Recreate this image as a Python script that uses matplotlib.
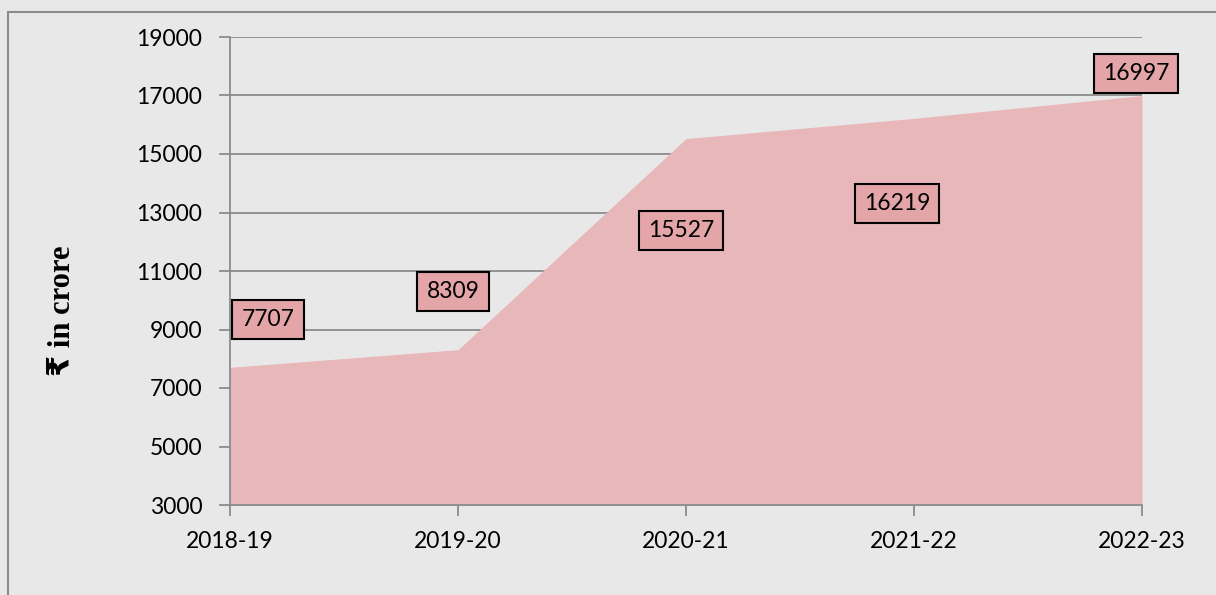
import matplotlib
matplotlib.use("Agg")
from matplotlib import pyplot as plt
from matplotlib.patches import Rectangle

years = ["2018-19", "2019-20", "2020-21", "2021-22", "2022-23"]
amounts = [7707, 8309, 15527, 16219, 16997]
yticks = list(range(3000, 19001, 2000))

# label offsets in pixels from each point (dx, dy)
label_offsets = [(38, 48), (-5, 58), (-5, -92), (-17, -85), (-6, 22)]

bg = "#e8e8e8"
fill_col = "#e8b7b9"
box_col = "#e3a5a7"
grid_col = "#8c8c8c"

fig = plt.figure(figsize=(12.16, 5.95), dpi=100)
fig.patch.set_facecolor(bg)
fig.patches.append(Rectangle((8 / 1216, -0.05), 1.1, 1.05 - 12 / 595,
                             transform=fig.transFigure, fill=False,
                             edgecolor="#8c8c8c", linewidth=1.5))

ax = fig.add_axes([230 / 1216, 1 - 505 / 595, (1142 - 230) / 1216, (505 - 37) / 595])
ax.set_facecolor("none")

x = list(range(len(years)))
ax.fill_between(x, 3000, amounts, color=fill_col, linewidth=0, zorder=3)

ax.set_xlim(0, len(years) - 1)
ax.set_ylim(3000, 19000)
ax.set_yticks(yticks)
ax.set_xticks(x)
ax.set_xticklabels(years)
ax.yaxis.grid(True, color=grid_col, linewidth=1.3, zorder=1)
ax.set_axisbelow(True)

for s in ["top", "right"]:
    ax.spines[s].set_visible(False)
for s in ["left", "bottom"]:
    ax.spines[s].set_color(grid_col)
    ax.spines[s].set_linewidth(1.3)
    ax.spines[s].set_zorder(4)

ax.tick_params(axis="both", colors=grid_col, width=1.3, length=8,
               labelcolor="black", labelsize=16.5)
ax.tick_params(axis="x", pad=11)
ax.tick_params(axis="y", pad=12)
for lab in ax.get_xticklabels() + ax.get_yticklabels():
    lab.set_family("Lato")

ax.set_ylabel("₹ in crore", family=["Liberation Serif", "DejaVu Sans"],
              fontweight="bold", fontsize=22)
ax.yaxis.set_label_coords(-0.168, 0.415)

for i, v in enumerate(amounts):
    dx, dy = label_offsets[i]
    ax.annotate(str(v), (i, v), xytext=(dx, dy), textcoords="offset pixels",
                ha="center", va="center", fontsize=16.5, family="Lato",
                zorder=6, annotation_clip=False,
                bbox=dict(boxstyle="square,pad=0.4", facecolor=box_col,
                          edgecolor="black", linewidth=1.5))

fig.savefig("out.png", dpi=100, facecolor=fig.get_facecolor())
